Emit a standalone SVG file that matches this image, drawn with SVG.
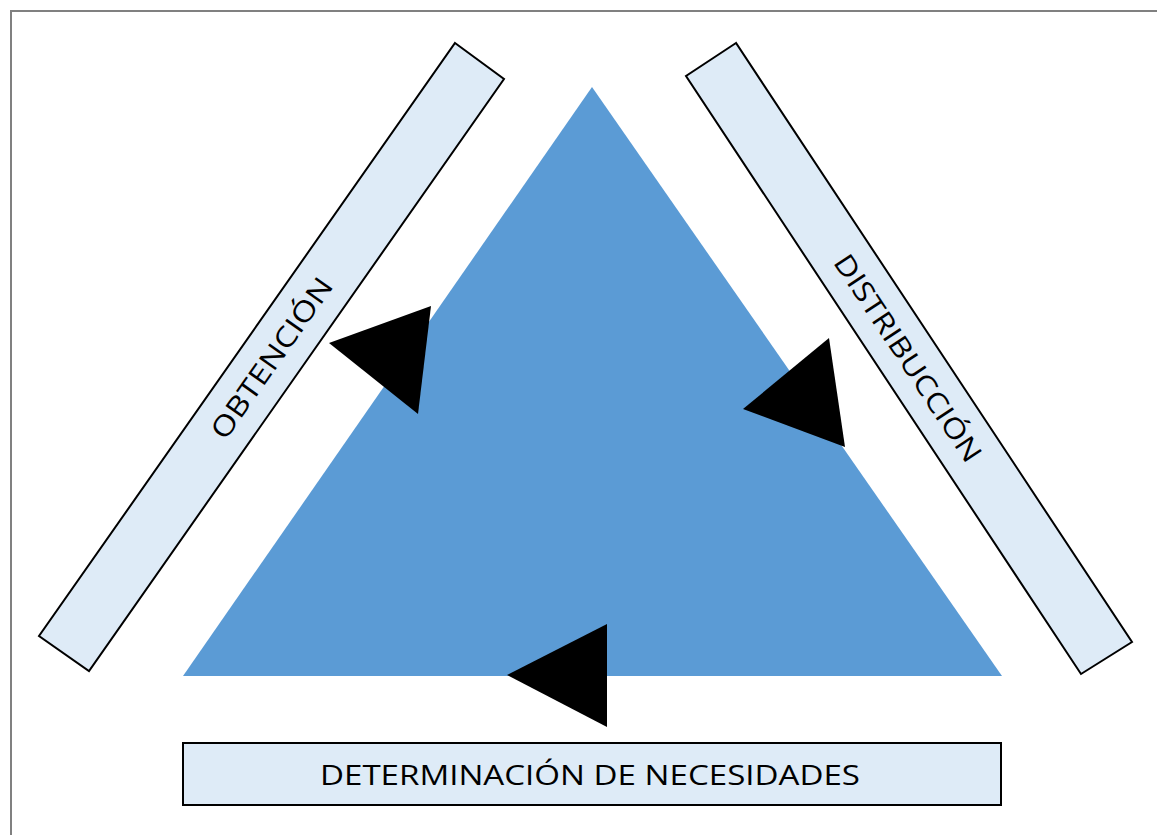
<svg xmlns="http://www.w3.org/2000/svg" width="1157" height="835" viewBox="0 0 1157 835">
<style>
.bar{fill:#DEEBF7;stroke:#000;stroke-width:2;stroke-linejoin:miter}
.lbl{font-family:"Open Sans","Liberation Sans",sans-serif;font-size:28px;fill:#000}
.arr{fill:#000}
</style>
<rect x="0" y="0" width="1157" height="835" fill="#fff"/>
<rect x="11" y="11" width="1160" height="840" fill="none" stroke="#808080" stroke-width="2"/>
<g id="triangle">
<polygon points="592,87 183,676 1002,676" fill="#5B9BD5"/>
</g>
<g id="obtencion">
<polygon class="bar" points="455,43 504,79 89,671 39,636"/>
<text class="lbl" transform="translate(271.5,358) rotate(-54.96)" x="0" y="10" text-anchor="middle" textLength="190" lengthAdjust="spacingAndGlyphs">OBTENCIÓN</text>
</g>
<g id="distribuccion">
<polygon class="bar" points="736,43 686,76 1081,674 1132,642"/>
<text class="lbl" transform="translate(908,358) rotate(56.5)" x="0" y="10" text-anchor="middle" textLength="243" lengthAdjust="spacingAndGlyphs">DISTRIBUCCIÓN</text>
</g>
<g id="necesidades">
<rect class="bar" x="183" y="743" width="818" height="62"/>
<text class="lbl" x="590" y="785" text-anchor="middle" textLength="540" lengthAdjust="spacingAndGlyphs">DETERMINACIÓN DE NECESIDADES</text>
</g>
<g id="connectors">
<polygon class="arr" points="329,343 431,306 418,414"/>
<polygon class="arr" points="743,409 829,338 845,447"/>
<polygon class="arr" points="507,675 607,624 607,727"/>
</g>
</svg>
